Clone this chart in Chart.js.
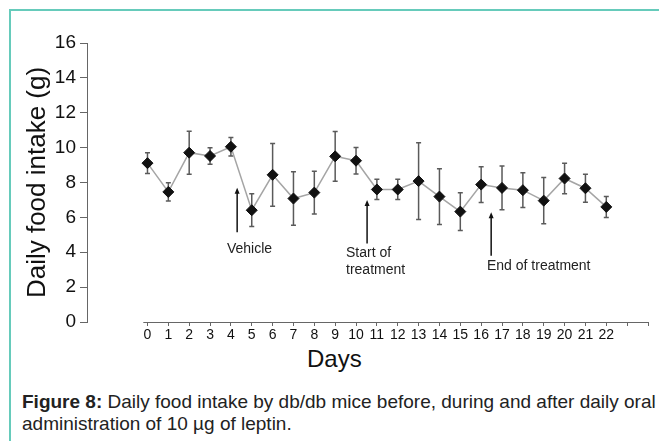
<!DOCTYPE html>
<html>
<head>
<meta charset="utf-8">
<script src="https://cdn.jsdelivr.net/npm/chart.js@4"></script>
<style>
  body { margin: 0; background: #fff; width: 659px; height: 441px; overflow: hidden; position: relative;
         font-family: Arial, "Liberation Sans", sans-serif; }
  #frame { position: absolute; left: 9px; top: 9px; width: 660px; height: 440px;
           border-left: 2px solid #66cbbb; border-top: 2px solid #66cbbb; }
  #wrap { position: absolute; left: 0; top: 0; width: 659px; height: 345px; }
  #days { position: absolute; left: 307px; top: 347px; font-size: 24px; line-height: 24px; color: #111; }
  #caption { position: absolute; left: 22px; top: 391px; font-size: 19px; line-height: 22px; color: #222;
             white-space: nowrap; }
</style>
</head>
<body>
<div id="frame"></div>
<div id="wrap"><canvas id="chart" width="659" height="345"></canvas></div>
<div id="days">Days</div>
<div id="caption"><b>Figure 8:</b> Daily food intake by db/db mice before, during and after daily oral<br>administration of 10 µg of leptin.</div>

<script>
// daily means and error bars
const days = [0, 1, 2, 3, 4, 5, 6, 7, 8, 9, 10, 11, 12, 13, 14, 15, 16, 17, 18, 19, 20, 21, 22];
const intake = [9.11, 7.46, 9.71, 9.52, 10.05, 6.41, 8.44, 7.08, 7.42, 9.50, 9.25, 7.60,
                7.60, 8.08, 7.19, 6.33, 7.88, 7.69, 7.56, 6.96, 8.23, 7.67, 6.60];
const errors = [0.60, 0.52, 1.23, 0.47, 0.53, 0.94, 1.80, 1.53, 1.23, 1.43, 0.76, 0.58,
                0.58, 2.20, 1.60, 1.08, 1.02, 1.25, 1.00, 1.32, 0.87, 0.80, 0.60];

// x ticks (23 and 24 have no label)
const xTicks = [0, 1, 2, 3, 4, 5, 6, 7, 8, 9, 10, 11, 12, 13, 14, 15, 16, 17, 18, 19, 20, 21, 22, 23, 24];
const xTickLabels = ["0", "1", "2", "3", "4", "5", "6", "7", "8", "9", "10", "11", "12",
                     "13", "14", "15", "16", "17", "18", "19", "20", "21", "22", "", ""];
const xAxisStart = -0.2;

// arrows and their notes, in data units
const arrowDays = [4.3, 10.53, 16.48];
const arrowTops = [7.7, 7.0, 6.3];
const arrowBottoms = [5.15, 4.5, 3.8];
const noteDays = [3.81, 9.52, 16.28];
const noteValues = [4.18, 3.95, 3.18];
const noteLines = [["Vehicle"], ["Start of", "treatment"], ["End of treatment"]];

const extras = {
  id: "extras",
  beforeDatasetsDraw(chart) {
    const { ctx, scales: { x, y } } = chart;
    ctx.save();

    // x axis line (starts apart from the y axis)
    const y0 = Math.round(y.getPixelForValue(0)) + 0.5;
    ctx.strokeStyle = "#666";
    ctx.lineWidth = 1;
    ctx.beginPath();
    ctx.moveTo(x.getPixelForValue(xAxisStart), y0);
    ctx.lineTo(x.getPixelForValue(xTicks[xTicks.length - 1]), y0);
    ctx.stroke();

    // error bars
    ctx.strokeStyle = "#5a5a5a";
    ctx.lineWidth = 1.5;
    days.forEach((d, i) => {
      const px = x.getPixelForValue(d);
      const top = y.getPixelForValue(intake[i] + errors[i]);
      const bot = y.getPixelForValue(intake[i] - errors[i]);
      ctx.beginPath();
      ctx.moveTo(px, top); ctx.lineTo(px, bot);
      ctx.moveTo(px - 2.5, top); ctx.lineTo(px + 2.5, top);
      ctx.moveTo(px - 2.5, bot); ctx.lineTo(px + 2.5, bot);
      ctx.stroke();
    });

    // arrows
    ctx.strokeStyle = "#111";
    ctx.fillStyle = "#111";
    ctx.lineWidth = 1.5;
    arrowDays.forEach((d, i) => {
      const px = x.getPixelForValue(d);
      const top = y.getPixelForValue(arrowTops[i]);
      const bot = y.getPixelForValue(arrowBottoms[i]);
      ctx.beginPath();
      ctx.moveTo(px, top + 4); ctx.lineTo(px, bot);
      ctx.stroke();
      ctx.beginPath();
      ctx.moveTo(px, top); ctx.lineTo(px - 2.5, top + 6); ctx.lineTo(px + 2.5, top + 6);
      ctx.closePath();
      ctx.fill();
    });

    // notes
    ctx.font = "14px Arial, 'Liberation Sans', sans-serif";
    ctx.textAlign = "left";
    ctx.textBaseline = "middle";
    ctx.fillStyle = "#222";
    noteLines.forEach((lines, i) => {
      const px = x.getPixelForValue(noteDays[i]);
      const py = y.getPixelForValue(noteValues[i]);
      lines.forEach((t, j) => ctx.fillText(t, px, py + j * 17));
    });

    ctx.restore();
  }
};

new Chart(document.getElementById("chart"), {
  type: "line",
  data: {
    datasets: [{
      data: days.map((d, i) => ({ x: d, y: intake[i] })),
      borderColor: "#a5a5a5",
      borderWidth: 1.5,
      tension: 0,
      pointStyle: "rectRot",
      pointRadius: 5.5,
      pointBackgroundColor: "#111",
      pointBorderColor: "#111",
      pointBorderWidth: 1
    }]
  },
  options: {
    responsive: false,
    animation: false,
    layout: { padding: { left: 22, top: 43, right: 11, bottom: 0 } },
    plugins: { legend: { display: false }, tooltip: { enabled: false } },
    scales: {
      x: {
        type: "linear",
        min: -2.9,
        max: 24,
        afterBuildTicks: s => { s.ticks = xTicks.map(v => ({ value: v })); },
        afterFit: s => { s.height = 23; },
        ticks: {
          autoSkip: false,
          maxRotation: 0,
          padding: 1,
          color: "#111",
          font: { family: "Arial, 'Liberation Sans', sans-serif", size: 14 },
          callback: (v, i) => xTickLabels[i]
        },
        grid: { drawOnChartArea: false, tickLength: 4, color: "#666" },
        border: { display: false }
      },
      y: {
        min: 0,
        max: 16,
        afterFit: s => { s.width = 65; },
        ticks: {
          stepSize: 2,
          padding: 4,
          color: "#111",
          font: { family: "Arial, 'Liberation Sans', sans-serif", size: 19 }
        },
        grid: { drawOnChartArea: false, tickLength: 7, color: "#666" },
        border: { color: "#666", width: 1 },
        title: {
          display: true,
          text: "Daily food intake (g)",
          color: "#111",
          padding: { top: 0, bottom: 0 },
          font: { family: "Arial, 'Liberation Sans', sans-serif", size: 26 }
        }
      }
    }
  },
  plugins: [extras]
});
</script>
</body>
</html>
